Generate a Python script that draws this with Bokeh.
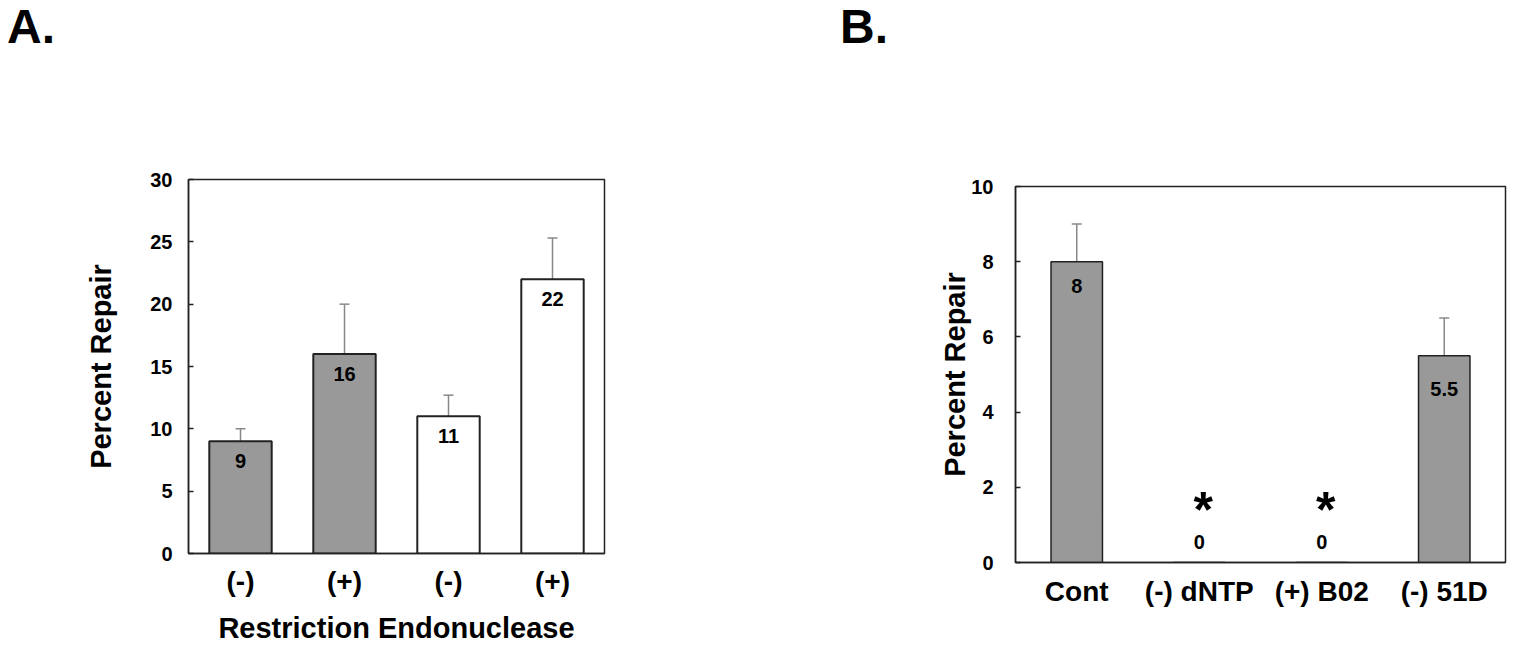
from bokeh.plotting import figure
from bokeh.models import ColumnDataSource, Whisker, TeeHead, FixedTicker, Range1d, Div
from bokeh.layouts import row, column
from bokeh.embed import file_html
from bokeh.resources import INLINE
from bokeh.core.properties import value

FONT = "Liberation Sans"

# ---------------- data ----------------
a_labels = ["(-)", "(+)", "(-)", "(+)"]
a_values = [9, 16, 11, 22]
a_errors = [1.0, 4.0, 1.7, 3.3]
a_fill = ["#999999", "#999999", "#ffffff", "#ffffff"]
a_ticks = [0, 5, 10, 15, 20, 25, 30]

b_labels = ["Cont", "(-) dNTP", "(+) B02", "(-) 51D"]
b_values = [8, 0, 0, 5.5]
b_errors = [1.0, 0, 0, 1.0]
b_signif = ["", "*", "*", ""]
b_ticks = [0, 2, 4, 6, 8, 10]

# ---------------- styles ----------------
GREY = "#999999"
EDGE = "#222222"
ERR = "#888888"
HEAD_H = 60


def fmt(v):
    return f"{v:g}"


def panel_letter(text, width, left, top):
    return Div(text=f'<span style="position:relative; left:{left}px; top:{top}px">{text}</span>',
               width=width, height=HEAD_H, margin=0,
               styles={"font-family": FONT, "font-weight": "bold", "font-size": "48px",
                       "line-height": "48px", "color": "black"})


def base_fig(width, height, ymax, yticks, xlabels, mb):
    p = figure(width=width, height=height, x_range=Range1d(0.5, len(xlabels) + 0.5),
               y_range=Range1d(0, ymax), output_backend="svg", toolbar_location=None,
               min_border_left=mb[0], min_border_right=mb[1], min_border_top=mb[2],
               min_border_bottom=mb[3])
    p.background_fill_color = "white"
    p.border_fill_color = "white"
    p.outline_line_color = EDGE
    p.outline_line_width = 1.5
    p.xgrid.visible = False
    p.ygrid.visible = False
    ya = p.yaxis[0]
    ya.ticker = FixedTicker(ticks=yticks)
    ya.major_tick_in = 5
    ya.major_tick_out = 0
    ya.minor_tick_line_color = None
    ya.axis_line_color = EDGE
    ya.axis_line_width = 1.5
    ya.major_tick_line_color = EDGE
    ya.major_tick_line_width = 1.5
    ya.major_label_text_font = FONT
    ya.major_label_text_font_style = "bold"
    ya.major_label_text_font_size = "20px"
    ya.major_label_text_color = "black"
    ya.axis_label = "Percent Repair"
    ya.axis_label_text_font = FONT
    ya.axis_label_text_font_style = "bold"
    ya.axis_label_text_font_size = "29px"
    ya.axis_label_text_color = "black"
    xa = p.xaxis[0]
    xa.ticker = FixedTicker(ticks=list(range(1, len(xlabels) + 1)))
    xa.major_label_overrides = {i + 1: lab for i, lab in enumerate(xlabels)}
    xa.major_tick_line_color = None
    xa.minor_tick_line_color = None
    xa.axis_line_color = EDGE
    xa.axis_line_width = 1.5
    xa.major_label_text_font = FONT
    xa.major_label_text_font_style = "bold"
    xa.major_label_text_font_size = "28px"
    xa.major_label_text_color = "black"
    xa.axis_label_text_font = FONT
    xa.axis_label_text_font_style = "bold"
    xa.axis_label_text_font_size = "29px"
    xa.axis_label_text_color = "black"
    return p


# ---------------- panel A ----------------
pa = base_fig(800, 647 - HEAD_H, 30, a_ticks, a_labels, (188, 196, 179 - HEAD_H, 94))
pa.yaxis[0].major_label_standoff = 16
pa.yaxis[0].axis_label_standoff = 30
pa.xaxis[0].major_label_standoff = 6
pa.xaxis[0].axis_label = "Restriction Endonuclease"
pa.xaxis[0].axis_label_standoff = 12

xa_pos = list(range(1, len(a_values) + 1))
src_a = ColumnDataSource(dict(x=xa_pos, top=a_values, fill=a_fill,
                              upper=[v + e for v, e in zip(a_values, a_errors)],
                              txt=[fmt(v) for v in a_values]))
pa.add_layout(Whisker(source=src_a, base="x", lower="top", upper="upper",
                      line_color=ERR, line_width=1.5, lower_head=None,
                      upper_head=TeeHead(size=10, line_color=ERR, line_width=1.5)))
pa.vbar(x="x", top="top", bottom=0, width=0.6, source=src_a, fill_color="fill",
        line_color=EDGE, line_width=2)
pa.text(x="x", y="top", text="txt", source=src_a, text_font=value(FONT),
        text_font_style="bold", text_font_size="20px", text_align="center",
        text_baseline="alphabetic", y_offset=20, text_color="black")

# ---------------- panel B ----------------
pb = base_fig(713, 647 - HEAD_H, 10, b_ticks, b_labels, (215, 8, 186 - HEAD_H, 85))
pb.yaxis[0].major_label_standoff = 22
pb.yaxis[0].axis_label_standoff = -3
pb.xaxis[0].major_label_standoff = 7

xb_pos = list(range(1, len(b_values) + 1))
src_b = ColumnDataSource(dict(x=xb_pos, top=b_values, txt=[fmt(v) for v in b_values],
                              dy=[24, -21, -21, 33]))
err_idx = [i for i, e in enumerate(b_errors) if e > 0]
src_be = ColumnDataSource(dict(x=[xb_pos[i] for i in err_idx],
                               top=[b_values[i] for i in err_idx],
                               upper=[b_values[i] + b_errors[i] for i in err_idx]))
pb.add_layout(Whisker(source=src_be, base="x", lower="top", upper="upper",
                      line_color=ERR, line_width=1.5, lower_head=None,
                      upper_head=TeeHead(size=10, line_color=ERR, line_width=1.5)))
pb.vbar(x="x", top="top", bottom=0, width=0.42, source=src_b, fill_color=GREY,
        line_color=EDGE, line_width=1.5)
pb.text(x="x", y="top", text="txt", source=src_b, text_font=value(FONT),
        text_font_style="bold", text_font_size="20px", text_align="center",
        text_baseline="alphabetic", y_offset="dy", text_color="black")
sig_idx = [i for i, s in enumerate(b_signif) if s]
src_sig = ColumnDataSource(dict(x=[xb_pos[i] for i in sig_idx],
                                y=[b_values[i] for i in sig_idx],
                                s=[b_signif[i] for i in sig_idx]))
pb.text(x="x", y="y", text="s", source=src_sig, text_font=value(FONT),
        text_font_style="bold", text_font_size="50px", text_align="center",
        text_baseline="alphabetic", y_offset=-53, x_offset=4, text_color="black")

head_a = panel_letter("A.", 800, 7, 3)
head_b = panel_letter("B.", 713, 40, 3)

layout = row(column(head_a, pa), column(head_b, pb))
open("out.html", "w").write(file_html(layout, INLINE))
